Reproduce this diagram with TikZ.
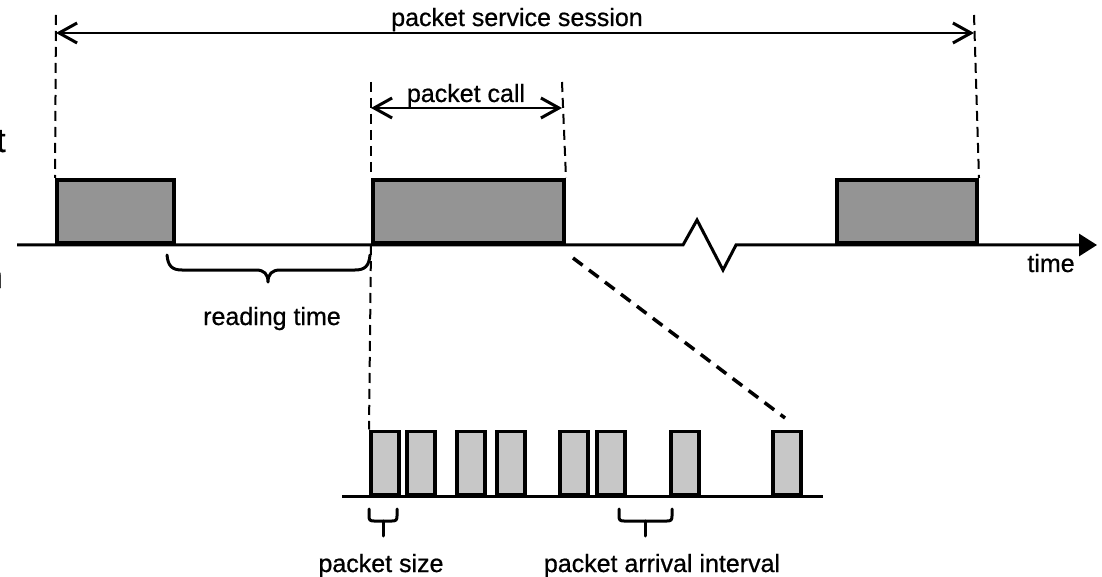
\documentclass[tikz,border=0pt]{standalone}
\usepackage{fontspec}
\setmainfont{Liberation Sans}[FakeBold=0.7]
\usetikzlibrary{arrows.meta}
\tikzset{
  lbl/.style={font=\fontsize{25}{30}\selectfont, inner sep=0pt},
  frag/.style={font=\fontsize{34}{40}\selectfont, inner sep=0pt},
  dimline/.style={line width=2.6pt,
    {Straight Barb[length=18pt,width=20pt,line width=3pt]}-{Straight Barb[length=18pt,width=20pt,line width=3pt]}},
  guide/.style={line width=2pt, dash pattern=on 10pt off 6pt},
  zoomline/.style={line width=3.5pt, dash pattern=on 12pt off 8pt},
  axis/.style={line width=3pt, line join=miter},
  callbox/.style={draw, line width=4pt, fill=black!42, inner sep=0pt,
    minimum height=63pt, anchor=south west},
  pktbox/.style={draw, line width=3.5pt, fill=black!22, inner sep=0pt,
    minimum width=28pt, minimum height=63pt, anchor=south west},
  brace/.style={line width=3pt, line cap=round, line join=round}
}
\begin{document}
\begin{tikzpicture}[x=1pt,y=-1pt]
\useasboundingbox (0,0) rectangle (1102,577);

% stray characters at the left margin
\node[frag, anchor=base west] (fragt) at (-4,152) {t};
\node[frag, anchor=base east] (fragn) at (3,288) {n};

% time axis with the break mark
\coordinate (ax0) at (17,245);
\coordinate (ax1) at (1097,245);
\draw[axis, -{Triangle[length=18pt,width=22pt]}]
  (ax0) -- (683,245) -- (697,220) -- (723,270) -- (736,245) -- (ax1);

% packet calls
\node[callbox, minimum width=117pt] (c1) at (55,245) {};
\node[callbox, minimum width=191pt] (c2) at (371,245) {};
\node[callbox, minimum width=140pt] (c3) at (835,245) {};

% session span
\coordinate (s0) at (56,33);
\coordinate (s1) at (974,33);
\coordinate (g0) at (56,15);
\coordinate (g1) at (974,15);
\draw[guide] (g0) -- (c1.north west);
\draw[guide] (g1) -- (c3.north east);
\draw[dimline] (s0) -- (s1);
\node[lbl, anchor=base] (session) at (517,26) {packet service session};

% packet call span
\coordinate (pc0) at (371,108);
\coordinate (pc1) at (562,108);
\coordinate (h0) at (371,82);
\coordinate (h1) at (562,82);
\draw[guide] (h0) -- (c2.north west);
\draw[guide] (h1) -- (c2.north east);
\draw[dimline] (pc0) -- (pc1);
\node[lbl, anchor=base] (calllbl) at (466,102) {packet call};

\node[lbl, anchor=base] (timelbl) at (1051,272) {time};

% reading time brace
\draw[brace] (167,255) .. controls (168,266) and (172,270) .. (182,270)
  -- (256,270) .. controls (264,270) and (268,274) .. (268,282)
  .. controls (268,274) and (272,270) .. (280,270)
  -- (355,270) .. controls (365,270) and (369,266) .. (370,255);
\node[lbl, anchor=base] (readlbl) at (272,325) {reading time};

% packets within one call
\coordinate (b0) at (342,496);
\coordinate (b1) at (823,496);
\draw[axis] (b0) -- (b1);
\foreach \i/\x in {1/369,2/405,3/455,4/495,5/558,6/595,7/669,8/771}
  \node[pktbox] (p\i) at (\x,496) {};

\draw[guide] (c2.south west) -- (p1.north west);
\coordinate (z0) at (573,258);
\coordinate (z1) at (785,418);
\draw[zoomline] (z0) -- (z1);

% packet size brace
\draw[brace] (369,509) -- (369,516) .. controls (369,520) and (370,521) .. (374,521)
  -- (392,521) .. controls (396,521) and (397,520) .. (397,516) -- (397,509);
\draw[brace] (383,521) -- (383,536);
\node[lbl, anchor=base] (sizelbl) at (381,572) {packet size};

% arrival interval brace
\draw[brace] (619,509) -- (619,516) .. controls (619,520) and (620,521) .. (624,521)
  -- (667,521) .. controls (671,521) and (672,520) .. (672,516) -- (672,509);
\draw[brace] (645,521) -- (645,536);
\node[lbl, anchor=base] (ivallbl) at (662,572) {packet arrival interval};
\end{tikzpicture}
\end{document}
